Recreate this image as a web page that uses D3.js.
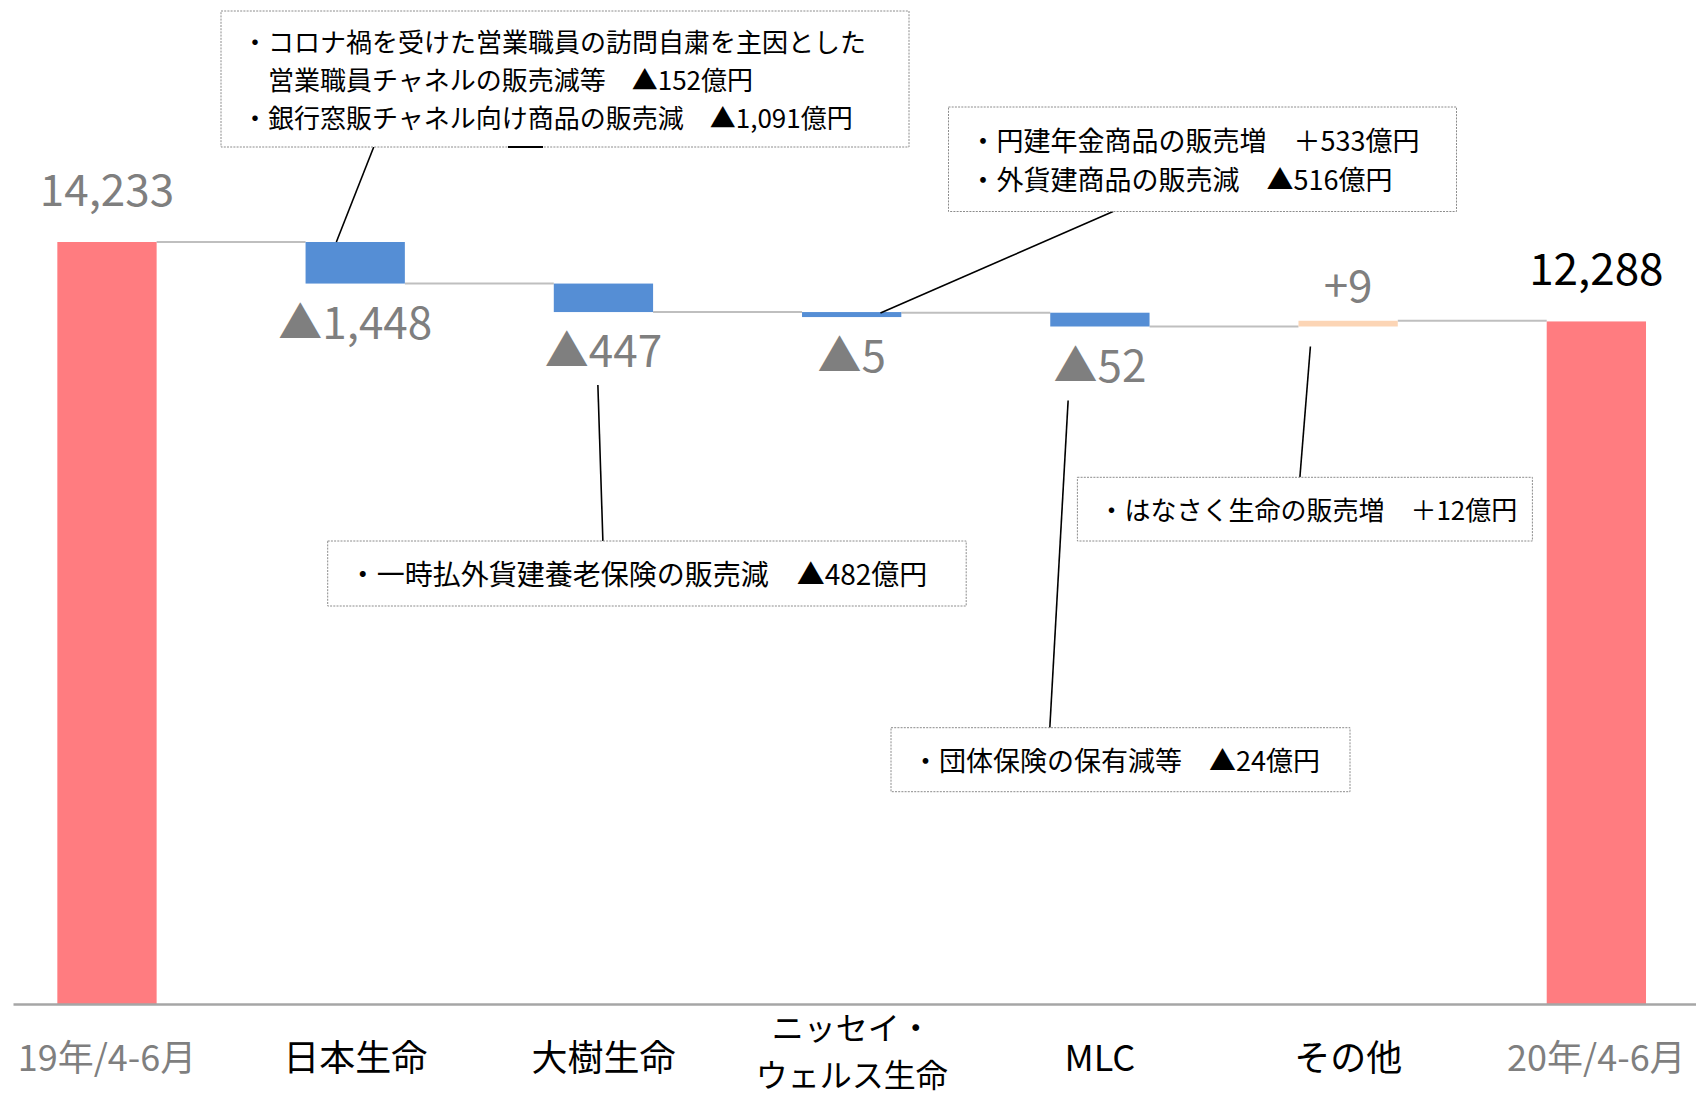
<!DOCTYPE html>
<html><head><meta charset="utf-8">
<script src="https://cdn.jsdelivr.net/npm/d3@7"></script>
<style>
html,body{margin:0;padding:0;background:#fff;}
svg{display:block;font-family:"Noto Sans CJK JP","Noto Sans",sans-serif;}
</style></head><body>
<svg id="chart" width="1696" height="1096"></svg>
<script>
// ---------- data ----------
const categories = ["19年/4-6月", "日本生命", "大樹生命", "ニッセイ・\nウェルス生命", "MLC", "その他", "20年/4-6月"];
const kinds = ["total", "delta", "delta", "delta", "delta", "delta", "total"];
const values = [14233, -1448, -447, -5, -52, 9, 12288];

const noteCategories = ["日本生命", "大樹生命", "ニッセイ・\nウェルス生命", "MLC", "その他"];
const noteTexts = [
  ["・コロナ禍を受けた営業職員の訪問自粛を主因とした", "　営業職員チャネルの販売減等　▲152億円", "・銀行窓販チャネル向け商品の販売減　▲1,091億円"],
  ["・一時払外貨建養老保険の販売減　▲482億円"],
  ["・円建年金商品の販売増　＋533億円", "・外貨建商品の販売減　▲516億円"],
  ["・団体保険の保有減等　▲24億円"],
  ["・はなさく生命の販売増　＋12億円"]
];

// ---------- layout / style ----------
const W = 1696, H = 1096;
const plot = {left: 13, right: 1696, top: 242, bottom: 1004, breakY: 326.5};
const colors = {total: "#FF7C80", down: "#558ED5", up: "#FCD5B5", connector: "#BFBFBF", axis: "#A6A6A6",
  labelGray: "#7F7F7F", labelEnd: "#000000"};
const noteBoxes = [
  {x: 221, y: 11, w: 688, h: 136, fs: 26, lh: 38, boxAt: [0.222, "bottom"], markAt: [0.31, "barTop", 0], dash: [287, 322]},
  {x: 327.7, y: 541, w: 638.5, h: 65, fs: 28, lh: 34, boxAt: [0.431, "top"], markAt: [0.444, "label", 18]},
  {x: 948.5, y: 107, w: 508, h: 104.5, fs: 27, lh: 39.2, boxAt: [0.324, "bottom"], markAt: [0.79, "barTop", 1]},
  {x: 891, y: 727.7, w: 459, h: 64, fs: 27, lh: 34, boxAt: [0.346, "top"], markAt: [0.18, "label", 19]},
  {x: 1077.4, y: 477.3, w: 455, h: 63.7, fs: 26, lh: 34, boxAt: [0.489, "top"], markAt: [0.12, "barBottom", 20]}
];
const minBarH = 5;
const catFont = {size: 36, base: 67, multiSize: 32, multiBase: 36, multiStep: 46.5};

// ---------- waterfall levels ----------
let run = 0;
const levels = values.map((v, i) => (run = kinds[i] === "total" ? v : run + v));
const floorLevel = d3.min(levels);

// ---------- scales ----------
const svg = d3.select("#chart");
const x = d3.scaleBand().domain(categories).range([plot.left, plot.right])
  .paddingInner(0.6).paddingOuter(0.19).align(0.47);
// broken value axis: compressed (sqrt) above the lowest running level, linear below it
const yUpper = d3.scaleSqrt().domain([0, d3.max(levels) - floorLevel]).range([plot.breakY, plot.top]);
const yLower = d3.scaleLinear().domain([0, floorLevel]).range([plot.bottom, plot.breakY]);
const y = v => v >= floorLevel ? yUpper(v - floorLevel) : yLower(v);
const bw = x.bandwidth();
const fmt = d3.format(",");

// ---------- bar geometry ----------
const bars = categories.map((c, i) => {
  const v = values[i];
  if (kinds[i] === "total") {
    return {c, i, kind: "total", top: y(v), bottom: y(0), level: v, label: fmt(v)};
  }
  const start = levels[i - 1], end = levels[i];
  let top, bottom;
  if (v < 0) {
    top = y(start);
    bottom = top + Math.max(y(end) - y(start), minBarH);
  } else {
    bottom = y(start);
    top = bottom - Math.max(y(start) - y(end), minBarH);
  }
  return {c, i, kind: v < 0 ? "down" : "up", top, bottom, level: end,
    label: (v < 0 ? "▲" : "+") + fmt(Math.abs(v))};
});
bars.forEach(b => {
  if (b.kind === "total") b.ly = b.top - 36;
  else if (b.kind === "up") b.ly = b.top - 19;
  else b.ly = b.bottom + 55;
});

// ---------- connectors ----------
svg.append("g").selectAll("line").data(bars.slice(0, -1)).join("line")
  .attr("x1", d => x(d.c) + bw)
  .attr("x2", d => x(categories[d.i + 1]))
  .attr("y1", d => y(d.level))
  .attr("y2", d => y(d.level))
  .attr("stroke", colors.connector).attr("stroke-width", 2);

// ---------- bars ----------
svg.append("g").selectAll("rect").data(bars).join("rect")
  .attr("x", d => x(d.c)).attr("width", bw)
  .attr("y", d => d.top).attr("height", d => d.bottom - d.top)
  .attr("fill", d => colors[d.kind]);

// ---------- axis ----------
const axisG = svg.append("g").attr("transform", `translate(0,${plot.bottom})`)
  .call(d3.axisBottom(x).tickSize(0).tickSizeOuter(0));
axisG.select(".domain").attr("stroke", colors.axis).attr("stroke-width", 2.5);
axisG.attr("font-family", null).attr("font-size", null);
axisG.selectAll(".tick text").each(function(d) {
  const lines = d.split("\n");
  const t = d3.select(this);
  const idx = categories.indexOf(d);
  const multi = lines.length > 1;
  t.text(null).attr("dy", null).attr("y", null)
    .attr("font-size", multi ? catFont.multiSize : catFont.size)
    .attr("fill", kinds[idx] === "total" ? colors.labelGray : "#000");
  lines.forEach((ln, j) => {
    t.append("tspan").attr("x", 0)
      .attr("y", multi ? catFont.multiBase + j * catFont.multiStep : catFont.base)
      .text(ln);
  });
});

// ---------- value labels ----------
svg.append("g").selectAll("text").data(bars).join("text")
  .attr("x", d => x(d.c) + bw / 2)
  .attr("y", d => d.ly)
  .attr("text-anchor", "middle")
  .attr("font-size", 44)
  .attr("fill", d => d.i === bars.length - 1 ? colors.labelEnd : colors.labelGray)
  .text(d => d.label);

// ---------- annotations ----------
const notes = noteCategories.map((c, k) => ({c, lines: noteTexts[k], box: noteBoxes[k], bar: bars[categories.indexOf(c)]}));

svg.append("g").selectAll("line").data(notes).join("line")
  .attr("x1", d => d.box.x + d.box.w * d.box.boxAt[0])
  .attr("y1", d => d.box.boxAt[1] === "top" ? d.box.y : d.box.y + d.box.h)
  .attr("x2", d => x(d.c) + bw * d.box.markAt[0])
  .attr("y2", d => {
    const m = d.box.markAt;
    if (m[1] === "barTop") return d.bar.top + m[2];
    if (m[1] === "barBottom") return d.bar.bottom + m[2];
    return d.bar.ly + m[2];
  })
  .attr("stroke", "#000").attr("stroke-width", 1.6);

const ng = svg.append("g").selectAll("g").data(notes).join("g");
ng.append("rect")
  .attr("x", d => d.box.x).attr("y", d => d.box.y)
  .attr("width", d => d.box.w).attr("height", d => d.box.h)
  .attr("fill", "#fff").attr("stroke", "#8C8C8C")
  .attr("stroke-width", 1).attr("stroke-dasharray", "2 1.2");
ng.filter(d => d.box.dash).append("line")
  .attr("x1", d => d.box.x + d.box.dash[0]).attr("x2", d => d.box.x + d.box.dash[1])
  .attr("y1", d => d.box.y + d.box.h).attr("y2", d => d.box.y + d.box.h)
  .attr("stroke", "#000").attr("stroke-width", 2);
ng.each(function(d) {
  const g = d3.select(this);
  const b = d.box;
  const cy = b.y + b.h / 2;
  const first = cy - (d.lines.length - 1) * b.lh / 2 + 0.4 * b.fs + 0.5;
  d.lines.forEach((ln, j) => {
    g.append("text")
      .attr("x", b.x + 21)
      .attr("y", first + j * b.lh)
      .attr("font-size", b.fs)
      .attr("fill", "#000")
      .text(ln);
  });
});
</script>
</body></html>
